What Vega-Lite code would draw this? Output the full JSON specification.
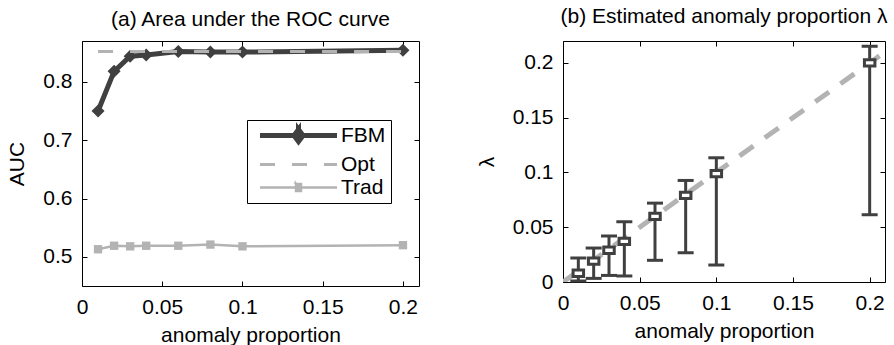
{
  "$schema": "https://vega.github.io/schema/vega-lite/v6.json",
  "background": "white",
  "padding": {"left": 6, "top": 5, "right": 0, "bottom": 0},
  "spacing": 55,
  "datasets": {
    "auc": [
      {"p": 0.01, "AUC": 0.750, "series": "FBM"},
      {"p": 0.02, "AUC": 0.818, "series": "FBM"},
      {"p": 0.03, "AUC": 0.844, "series": "FBM"},
      {"p": 0.04, "AUC": 0.846, "series": "FBM"},
      {"p": 0.06, "AUC": 0.852, "series": "FBM"},
      {"p": 0.08, "AUC": 0.851, "series": "FBM"},
      {"p": 0.10, "AUC": 0.851, "series": "FBM"},
      {"p": 0.20, "AUC": 0.854, "series": "FBM"},
      {"p": 0.01, "AUC": 0.852, "series": "Opt"},
      {"p": 0.02, "AUC": 0.852, "series": "Opt"},
      {"p": 0.03, "AUC": 0.852, "series": "Opt"},
      {"p": 0.04, "AUC": 0.852, "series": "Opt"},
      {"p": 0.06, "AUC": 0.852, "series": "Opt"},
      {"p": 0.08, "AUC": 0.852, "series": "Opt"},
      {"p": 0.10, "AUC": 0.852, "series": "Opt"},
      {"p": 0.20, "AUC": 0.852, "series": "Opt"},
      {"p": 0.01, "AUC": 0.513, "series": "Trad"},
      {"p": 0.02, "AUC": 0.519, "series": "Trad"},
      {"p": 0.03, "AUC": 0.518, "series": "Trad"},
      {"p": 0.04, "AUC": 0.519, "series": "Trad"},
      {"p": 0.06, "AUC": 0.519, "series": "Trad"},
      {"p": 0.08, "AUC": 0.521, "series": "Trad"},
      {"p": 0.10, "AUC": 0.518, "series": "Trad"},
      {"p": 0.20, "AUC": 0.520, "series": "Trad"}
    ],
    "lam": [
      {"p": 0.01, "lam": 0.008, "lo": 0.001, "hi": 0.022},
      {"p": 0.02, "lam": 0.019, "lo": 0.0033, "hi": 0.031},
      {"p": 0.03, "lam": 0.029, "lo": 0.006, "hi": 0.042},
      {"p": 0.04, "lam": 0.037, "lo": 0.0055, "hi": 0.055},
      {"p": 0.06, "lam": 0.060, "lo": 0.0198, "hi": 0.072},
      {"p": 0.08, "lam": 0.079, "lo": 0.0267, "hi": 0.0927},
      {"p": 0.10, "lam": 0.099, "lo": 0.0155, "hi": 0.1134},
      {"p": 0.20, "lam": 0.200, "lo": 0.0614, "hi": 0.2152}
    ],
    "diag": [
      {"p": 0, "lam": 0},
      {"p": 0.21, "lam": 0.21}
    ]
  },
  "config": {
    "font": "Liberation Sans",
    "view": {"stroke": "black", "strokeWidth": 1},
    "axis": {
      "labelFont": "Liberation Sans", "titleFont": "Liberation Sans",
      "labelFontSize": 21, "titleFontSize": 21, "titleFontWeight": "normal",
      "labelColor": "black", "titleColor": "black", "tickColor": "black",
      "tickSize": -5, "tickWidth": 1, "grid": false, "domain": false, "labelFlush": false,
      "labelPadding": 15
    },
    "axisX": {"titlePadding": 7},
    "axisY": {"titlePadding": 15},
    "title": {"font": "Liberation Sans", "fontSize": 21, "fontWeight": "normal", "color": "black", "offset": 10}
  },
  "hconcat": [
    {
      "width": 337, "height": 245,
      "title": {"text": "(a) Area under the ROC curve", "fontSize": 21, "offset": 10},
      "layer": [
        {
          "data": {"name": "auc"},
          "transform": [{"filter": "datum.series == 'FBM'"}],
          "mark": {"type": "line", "strokeWidth": 5, "point": {"shape": "diamond", "size": 170, "filled": true, "opacity": 1}},
          "encoding": {
            "x": {"field": "p", "type": "quantitative", "scale": {"domain": [0, 0.21], "nice": false, "zero": false},
                  "axis": {"title": "anomaly proportion", "values": [0, 0.05, 0.1, 0.15, 0.2], "format": "~g"}},
            "y": {"field": "AUC", "type": "quantitative", "scale": {"domain": [0.45, 0.87], "nice": false, "zero": false},
                  "axis": {"title": "AUC", "values": [0.5, 0.6, 0.7, 0.8], "format": ".1f"}},
            "color": {
              "field": "series", "type": "nominal",
              "scale": {"domain": ["FBM", "Opt", "Trad"], "range": ["#404040", "#b3b3b3", "#b3b3b3"]},
              "legend": {
                "orient": "none", "legendX": 165, "legendY": 79, "direction": "vertical", "title": null,
                "strokeColor": "black", "fillColor": "white", "padding": 5, "cornerRadius": 0,
                "labelFont": "Liberation Sans", "labelFontSize": 21, "labelColor": "black",
                "labelExpr": "datum.label + '\u00a0\u00a0'",
                "symbolSize": 400, "symbolOffset": 36, "labelOffset": 32, "rowPadding": 1,
                "encode": {
                  "symbols": {
                    "update": {
                      "shape": {"signal": "datum.value == 'FBM' ? 'M-4.6,0L3.85,0M0,0L0.25,0L0,0L0.25,0L0,0L0,-0.6L0.45,0L0,0.6L-0.45,0L0,-0.6Z' : (datum.value == 'Opt' ? 'M-4.6,0L3.85,0' : 'M-4.6,0L3.85,0M0,0L0.25,0L0,0L0.25,0L0,0L-0.25,-0.35L0.25,-0.35L0.25,0.35L-0.25,0.35L-0.25,-0.35Z')"},
                      "fill": {"signal": "datum.value == 'FBM' ? '#404040' : (datum.value == 'Opt' ? 'transparent' : '#b3b3b3')"},
                      "stroke": {"signal": "datum.value == 'FBM' ? '#404040' : '#b3b3b3'"},
                      "strokeWidth": {"signal": "datum.value == 'FBM' ? 5 : (datum.value == 'Opt' ? 3 : 2.5)"},
                      "strokeDash": {"signal": "datum.value == 'Opt' ? [0, 7.5, 15, 17, 15, 17, 15, 200] : [0, 7.5, 2000]"},
                      "strokeCap": {"value": "butt"},
                      "opacity": {"value": 1},
                      "fillOpacity": {"value": 1},
                      "strokeOpacity": {"value": 1}
                    }
                  }
                }
              }
            }
          }
        },
        {
          "data": {"name": "auc"},
          "transform": [{"filter": "datum.series == 'Opt'"}],
          "mark": {"type": "line", "strokeWidth": 3, "strokeDash": [15, 17]},
          "encoding": {
            "x": {"field": "p", "type": "quantitative", "scale": {"domain": [0, 0.21], "nice": false, "zero": false}, "axis": null},
            "y": {"field": "AUC", "type": "quantitative", "scale": {"domain": [0.45, 0.87], "nice": false, "zero": false}, "axis": null},
            "color": {"field": "series", "type": "nominal"}
          }
        },
        {
          "data": {"name": "auc"},
          "transform": [{"filter": "datum.series == 'Trad'"}],
          "mark": {"type": "line", "strokeWidth": 2.5, "point": {"shape": "square", "size": 70, "filled": true, "opacity": 1}},
          "encoding": {
            "x": {"field": "p", "type": "quantitative", "scale": {"domain": [0, 0.21], "nice": false, "zero": false}, "axis": null},
            "y": {"field": "AUC", "type": "quantitative", "scale": {"domain": [0.45, 0.87], "nice": false, "zero": false}, "axis": null},
            "color": {"field": "series", "type": "nominal"}
          }
        },
        {
          "data": {"name": "auc"},
          "mark": {"type": "point", "opacity": 0},
          "encoding": {
            "x": {"field": "p", "type": "quantitative", "scale": {"domain": [0, 0.21], "nice": false, "zero": false},
                  "axis": {"orient": "top", "labels": false, "title": null, "values": [0, 0.05, 0.1, 0.15, 0.2]}},
            "y": {"field": "AUC", "type": "quantitative", "scale": {"domain": [0.45, 0.87], "nice": false, "zero": false},
                  "axis": {"orient": "right", "labels": false, "title": null, "values": [0.5, 0.6, 0.7, 0.8]}}
          }
        }
      ],
      "resolve": {"axis": {"x": "independent", "y": "independent"}}
    },
    {
      "width": 322, "height": 241,
      "title": {"text": "(b) Estimated anomaly proportion λ", "fontSize": 21, "offset": 14},
      "layer": [
        {
          "data": {"name": "diag"},
          "mark": {"type": "line", "strokeWidth": 5, "strokeDash": [17, 14], "color": "#b3b3b3", "clip": true},
          "encoding": {
            "x": {"field": "p", "type": "quantitative", "scale": {"domain": [0, 0.21], "nice": false, "zero": false},
                  "axis": {"title": "anomaly proportion", "values": [0, 0.05, 0.1, 0.15, 0.2], "format": "~g"}},
            "y": {"field": "lam", "type": "quantitative", "scale": {"domain": [0, 0.22], "nice": false, "zero": false},
                  "axis": {"title": "λ", "values": [0, 0.05, 0.1, 0.15, 0.2], "format": "~g"}}
          }
        },
        {
          "data": {"name": "lam"},
          "mark": {"type": "rule", "strokeWidth": 3, "color": "#404040"},
          "encoding": {
            "x": {"field": "p", "type": "quantitative", "scale": {"domain": [0, 0.21], "nice": false, "zero": false}, "axis": null},
            "y": {"field": "lo", "type": "quantitative", "scale": {"domain": [0, 0.22], "nice": false, "zero": false}, "axis": null},
            "y2": {"field": "hi"}
          }
        },
        {
          "data": {"name": "lam"},
          "mark": {"type": "tick", "orient": "horizontal", "size": 16, "thickness": 3, "color": "#404040", "opacity": 1},
          "encoding": {
            "x": {"field": "p", "type": "quantitative", "scale": {"domain": [0, 0.21], "nice": false, "zero": false}, "axis": null},
            "y": {"field": "hi", "type": "quantitative", "scale": {"domain": [0, 0.22], "nice": false, "zero": false}, "axis": null}
          }
        },
        {
          "data": {"name": "lam"},
          "mark": {"type": "tick", "orient": "horizontal", "size": 16, "thickness": 3, "color": "#404040", "opacity": 1},
          "encoding": {
            "x": {"field": "p", "type": "quantitative", "scale": {"domain": [0, 0.21], "nice": false, "zero": false}, "axis": null},
            "y": {"field": "lo", "type": "quantitative", "scale": {"domain": [0, 0.22], "nice": false, "zero": false}, "axis": null}
          }
        },
        {
          "data": {"name": "lam"},
          "mark": {"type": "point", "shape": "M-1,-0.6L1,-0.6L1,0.6L-1,0.6Z", "size": 110, "filled": false, "fill": "white", "fillOpacity": 1, "stroke": "#404040", "strokeWidth": 3, "opacity": 1},
          "encoding": {
            "x": {"field": "p", "type": "quantitative", "scale": {"domain": [0, 0.21], "nice": false, "zero": false}, "axis": null},
            "y": {"field": "lam", "type": "quantitative", "scale": {"domain": [0, 0.22], "nice": false, "zero": false}, "axis": null}
          }
        },
        {
          "data": {"name": "lam"},
          "mark": {"type": "point", "opacity": 0},
          "encoding": {
            "x": {"field": "p", "type": "quantitative", "scale": {"domain": [0, 0.21], "nice": false, "zero": false},
                  "axis": {"orient": "top", "labels": false, "title": null, "values": [0, 0.05, 0.1, 0.15, 0.2]}},
            "y": {"field": "lam", "type": "quantitative", "scale": {"domain": [0, 0.22], "nice": false, "zero": false},
                  "axis": {"orient": "right", "labels": false, "title": null, "values": [0, 0.05, 0.1, 0.15, 0.2]}}
          }
        }
      ],
      "resolve": {"axis": {"x": "independent", "y": "independent"}}
    }
  ]
}
